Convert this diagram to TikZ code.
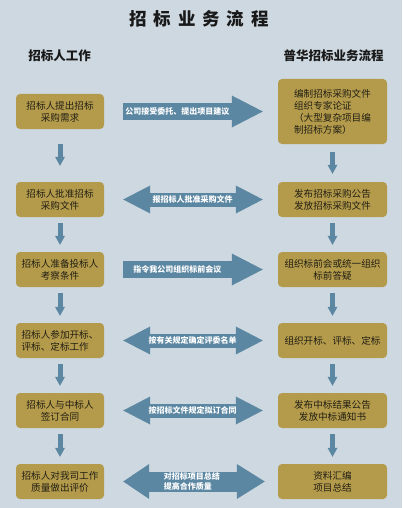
\documentclass[tikz,border=0pt]{standalone}
\usepackage{fontspec}
\newfontfamily\cjk{Noto Sans CJK SC}
\usetikzlibrary{arrows.meta}
\definecolor{bg}{HTML}{CDD8E0}
\definecolor{gold}{HTML}{B49B4B}
\definecolor{steel}{HTML}{5C87A2}
\definecolor{ink}{HTML}{221F14}
\begin{document}
\begin{tikzpicture}[x=1pt,y=-1pt,
  box/.style={fill=gold, rounded corners=4pt, inner sep=0pt, align=center, text=ink,
    font=\cjk\fontsize{9.6}{12}\selectfont},
  lbox/.style={box, minimum width=88pt, minimum height=35pt},
  rbox/.style={box, minimum width=109pt, minimum height=35pt},
  downarr/.style={draw=steel, line width=5pt, -{Triangle[width=10pt,length=9pt,line width=0pt]}},
  rarr/.style={draw=steel, line width=17pt, shorten <=19pt, shorten >=15pt,
    -{Triangle[width=32pt,length=31pt,line width=0pt]}},
  darr/.style={draw=steel, line width=14pt, shorten <=19pt, shorten >=15pt,
    {Triangle[width=28pt,length=27pt,line width=0pt]}-{Triangle[width=28pt,length=27pt,line width=0pt]}},
  darrbig/.style={draw=steel, line width=20pt, shorten <=19pt, shorten >=13pt,
    {Triangle[width=35pt,length=26pt,line width=0pt]}-{Triangle[width=35pt,length=28pt,line width=0pt]}},
  arrtext/.style={text=white, font=\cjk\bfseries\fontsize{8}{10}\selectfont, inner sep=0pt, align=left},
  head/.style={text=black!90, font=\cjk\bfseries\fontsize{12.5}{14}\selectfont, inner sep=0pt},
]
\fill[bg] (0,0) rectangle (402,508);
\useasboundingbox (0,0) rectangle (402,508);

\node[text=black!90, font=\cjk\bfseries\fontsize{17.5}{20}\selectfont, inner sep=0pt] (title) at (199,18.5)
  {招\hspace{6.9pt}标\hspace{6.9pt}业\hspace{6.9pt}务\hspace{6.9pt}流\hspace{6.9pt}程};
\node[head] (hl) at (59.5,56) {招标人工作};
\node[head] (hr) at (333.5,56) {普华招标业务流程};

\node[lbox] (L1) at (60,111.5) {招标人提出招标\\采购需求};
\node[rbox, minimum height=65pt, align=left] (R1) at (332.5,111.5) {编制招标采购文件\\组织专家论证\\（大型复杂项目编\\制招标方案）};
\node[lbox] (L2) at (60,199.5) {招标人批准招标\\采购文件};
\node[rbox] (R2) at (332.5,199.5) {发布招标采购公告\\发放招标采购文件};
\node[lbox] (L3) at (60,269.5) {招标人准备投标人\\考察条件};
\node[rbox] (R3) at (332.5,269.5) {组织标前会或统一组织\\标前答疑};
\node[lbox, align=left] (L4) at (60,340.5) {招标人参加开标、\\评标、定标工作};
\node[rbox] (R4) at (332.5,340.5) {组织开标、评标、定标};
\node[lbox] (L5) at (60,410.5) {招标人与中标人\\签订合同};
\node[rbox] (R5) at (332.5,410.5) {发布中标结果公告\\发放中标通知书};
\node[lbox] (L6) at (60,481.5) {招标人对我司工作\\质量做出评价};
\node[rbox] (R6) at (332.5,481.5) {资料汇编\\项目总结};

% vertical arrows
\draw[downarr, shorten <=15pt, shorten >=16pt] (L1.south) -- (L2.north);
\draw[downarr, shorten <=8pt, shorten >=8pt] (R1.south) -- (R2.north);
\foreach \a/\b in {L2/L3,L3/L4,L4/L5,L5/L6,R2/R3,R3/R4,R4/R5,R5/R6}
  \draw[downarr, shorten <=6pt, shorten >=7pt] (\a.south) -- (\b.north);

% horizontal arrows
\draw[rarr] (L1.east) -- node[arrtext, pos=0.422] (t1) {公司接受委托、提出项目建议} (R1.west);
\draw[darr] (L2.east) -- node[arrtext, pos=0.51] (t2) {报招标人批准采购文件} (R2.west);
\draw[rarr] (L3.east) -- node[arrtext, pos=0.422] (t3) {指令我公司组织标前会议} (R3.west);
\draw[darr] (L4.east) -- node[arrtext, pos=0.51] (t4) {按有关规定确定评委名单} (R4.west);
\draw[darr] (L5.east) -- node[arrtext, pos=0.51] (t5) {按招标文件规定拟订合同} (R5.west);
\draw[darrbig] (L6.east) -- node[arrtext, pos=0.505] (t6) {对招标项目总结\\提高合作质量} (R6.west);
\end{tikzpicture}
\end{document}
